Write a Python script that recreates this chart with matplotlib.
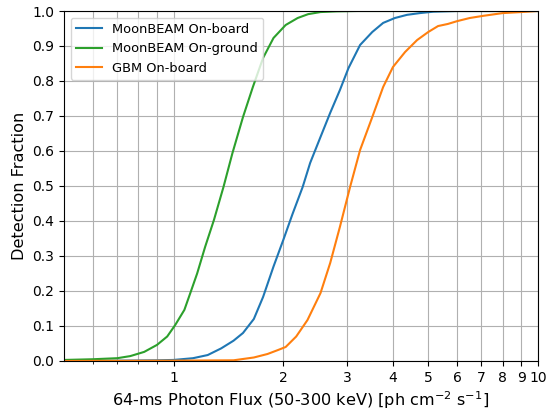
import matplotlib
matplotlib.use("Agg")
import matplotlib.pyplot as plt

# detection fraction vs. 64-ms peak photon flux
onboard_x = [0.5, 0.7, 0.9, 1.0, 1.13, 1.24, 1.35, 1.46, 1.55, 1.66, 1.76, 1.88, 2.0,
             2.12, 2.26, 2.37, 2.53, 2.69, 2.86, 3.02, 3.25, 3.51, 3.76, 4.05, 4.37,
             4.74, 5.16, 6.0, 10.0]
onboard_y = [0.0, 0.001, 0.002, 0.003, 0.008, 0.017, 0.036, 0.058, 0.08, 0.12, 0.183,
             0.27, 0.346, 0.42, 0.497, 0.566, 0.64, 0.709, 0.774, 0.837, 0.903, 0.94,
             0.966, 0.98, 0.989, 0.994, 0.998, 1.0, 1.0]

ground_x = [0.5, 0.6, 0.7, 0.76, 0.83, 0.9, 0.96, 1.01, 1.07, 1.11, 1.16, 1.22, 1.29,
            1.37, 1.45, 1.55, 1.65, 1.76, 1.88, 2.03, 2.19, 2.34, 2.53, 2.8, 3.2, 10.0]
ground_y = [0.003, 0.005, 0.008, 0.014, 0.026, 0.046, 0.07, 0.103, 0.146, 0.193, 0.25,
            0.326, 0.403, 0.497, 0.594, 0.697, 0.783, 0.866, 0.923, 0.96, 0.98, 0.991,
            0.997, 0.999, 1.0, 1.0]

gbm_x = [0.5, 1.0, 1.46, 1.66, 1.81, 1.93, 2.03, 2.17, 2.33, 2.53, 2.69, 2.86, 3.05,
         3.25, 3.51, 3.76, 4.0, 4.32, 4.66, 5.0, 5.32, 5.66, 6.0, 6.5, 7.06, 8.0, 9.0, 10.0]
gbm_y = [0.0, 0.001, 0.002, 0.01, 0.02, 0.031, 0.04, 0.07, 0.117, 0.194, 0.28, 0.383,
         0.497, 0.603, 0.697, 0.783, 0.84, 0.883, 0.917, 0.94, 0.957, 0.963, 0.971,
         0.98, 0.986, 0.994, 0.997, 1.0]

xticks = [1, 2, 3, 4, 5, 6, 7, 8, 9, 10]
minor_xticks = [0.6, 0.7, 0.8, 0.9]
yticks = [i / 10 for i in range(11)]

fig = plt.figure(figsize=(5.5, 4.12), dpi=100)
ax = fig.add_axes([0.1164, 0.1238, 0.8616, 0.8495])

ax.plot(onboard_x, onboard_y, color="C0", label="MoonBEAM On-board")
ax.plot(ground_x, ground_y, color="C2", label="MoonBEAM On-ground")
ax.plot(gbm_x, gbm_y, color="C1", label="GBM On-board")

ax.set_xscale("log")
ax.set_xlim(0.5, 10)
ax.set_ylim(0, 1)
ax.set_xticks(xticks)
ax.set_xticklabels([str(t) for t in xticks])
ax.set_xticks(minor_xticks, minor=True)
ax.set_xticklabels([], minor=True)
ax.set_yticks(yticks)
ax.set_yticklabels(["%.1f" % t for t in yticks])
ax.grid(which="both", color="#b0b0b0", linewidth=0.8)

ax.set_xlabel(r"64-ms Photon Flux (50-300 keV) [ph cm$^{-2}$ s$^{-1}$]",
              fontsize=11.6, labelpad=3)
ax.set_ylabel("Detection Fraction", fontsize=11.6)
ax.legend(loc="upper left", fontsize=9.4)

fig.savefig("out.png", dpi=100)
